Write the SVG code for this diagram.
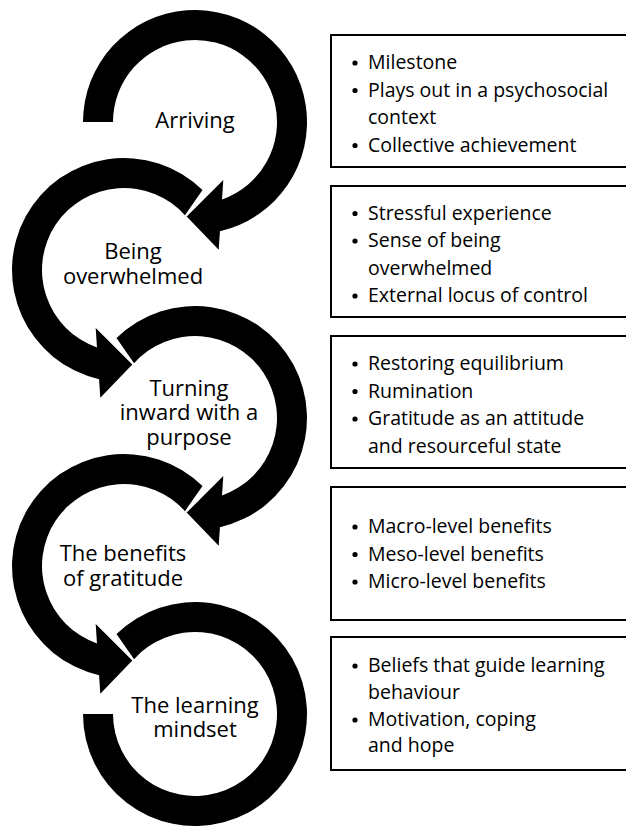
<svg xmlns="http://www.w3.org/2000/svg" width="626" height="827" viewBox="0 0 626 827">
<style>
.arc{fill:#000;stroke:none}
.label{font-family:"Open Sans","Noto Sans","DejaVu Sans",sans-serif;font-size:22px;fill:#000;text-anchor:middle}
.box{fill:#fff;stroke:#000;stroke-width:2}
.item{font-family:"Open Sans","Noto Sans","DejaVu Sans",sans-serif;font-size:19.5px;fill:#000}
.dot{fill:#000}
</style>
<rect width="626" height="827" fill="#fff"/>
<g id="connectors">
<path class="arc" d="M 83 122 A 112 112 0 1 1 219.93 231.19 L 218.7 249.8 L 186.7 216.6 L 223.3 180.0 L 222.02 199.42 A 82 82 0 1 0 113 122 Z"/>
<path class="arc" d="M 202.5 190.1 A 112 112 0 1 0 99.07 379.19 L 100.3 397.8 L 132.3 364.6 L 95.7 328.0 L 96.98 347.42 A 82 82 0 1 1 184.94 215.13 Z"/>
<path class="arc" d="M 116.5 338.1 A 112 112 0 1 1 219.93 527.19 L 218.7 545.8 L 186.7 512.6 L 223.3 476.0 L 222.02 495.42 A 82 82 0 1 0 134.06 363.13 Z"/>
<path class="arc" d="M 202.5 486.1 A 112 112 0 1 0 99.07 675.19 L 100.3 693.8 L 132.3 660.6 L 95.7 624.0 L 96.98 643.42 A 82 82 0 1 1 184.94 511.13 Z"/>
<path class="arc" d="M 116.5 634.1 A 112 112 0 1 1 83 714 L 113 714 A 82 82 0 1 0 134.06 659.13 Z"/>
</g>
<g id="stage-arriving">
<text class="label" x="195" y="128">Arriving</text>
</g>
<g id="stage-overwhelmed">
<text class="label" x="133" y="259">Being</text>
<text class="label" x="133" y="283.5">overwhelmed</text>
</g>
<g id="stage-turning">
<text class="label" x="189" y="395.5">Turning</text>
<text class="label" x="189" y="420">inward with a</text>
<text class="label" x="189" y="444.5">purpose</text>
</g>
<g id="stage-benefits">
<text class="label" x="123" y="561">The benefits</text>
<text class="label" x="123" y="586">of gratitude</text>
</g>
<g id="stage-mindset">
<text class="label" x="195" y="712.5">The learning</text>
<text class="label" x="195" y="737">mindset</text>
</g>
<g id="box-arriving">
<rect class="box" x="331" y="35" width="297" height="132"/>
<circle class="dot" cx="355" cy="63" r="2.6"/><text class="item" x="368" y="69">Milestone</text>
<circle class="dot" cx="355" cy="90.5" r="2.6"/><text class="item" x="368" y="96.5">Plays out in a psychosocial</text>
<text class="item" x="368" y="124">context</text>
<circle class="dot" cx="355" cy="145.5" r="2.6"/><text class="item" x="368" y="151.5">Collective achievement</text>
</g>
<g id="box-overwhelmed">
<rect class="box" x="331" y="186" width="297" height="131"/>
<circle class="dot" cx="355" cy="213.5" r="2.6"/><text class="item" x="368" y="219.5">Stressful experience</text>
<circle class="dot" cx="355" cy="241" r="2.6"/><text class="item" x="368" y="247">Sense of being</text>
<text class="item" x="368" y="274.5">overwhelmed</text>
<circle class="dot" cx="355" cy="296" r="2.6"/><text class="item" x="368" y="302">External locus of control</text>
</g>
<g id="box-turning">
<rect class="box" x="331" y="336" width="297" height="132"/>
<circle class="dot" cx="355" cy="364" r="2.6"/><text class="item" x="368" y="370">Restoring equilibrium</text>
<circle class="dot" cx="355" cy="391.5" r="2.6"/><text class="item" x="368" y="397.5">Rumination</text>
<circle class="dot" cx="355" cy="419" r="2.6"/><text class="item" x="368" y="425">Gratitude as an attitude</text>
<text class="item" x="368" y="452.5">and resourceful state</text>
</g>
<g id="box-benefits">
<rect class="box" x="331" y="487" width="297" height="133"/>
<circle class="dot" cx="355" cy="527" r="2.6"/><text class="item" x="368" y="533">Macro-level benefits</text>
<circle class="dot" cx="355" cy="554.5" r="2.6"/><text class="item" x="368" y="560.5">Meso-level benefits</text>
<circle class="dot" cx="355" cy="582" r="2.6"/><text class="item" x="368" y="588">Micro-level benefits</text>
</g>
<g id="box-mindset">
<rect class="box" x="331" y="637" width="297" height="133"/>
<circle class="dot" cx="355" cy="666" r="2.6"/><text class="item" x="368" y="672">Beliefs that guide learning</text>
<text class="item" x="368" y="699">behaviour</text>
<circle class="dot" cx="355" cy="720" r="2.6"/><text class="item" x="368" y="726">Motivation, coping</text>
<text class="item" x="368" y="752">and hope</text>
</g>
</svg>
